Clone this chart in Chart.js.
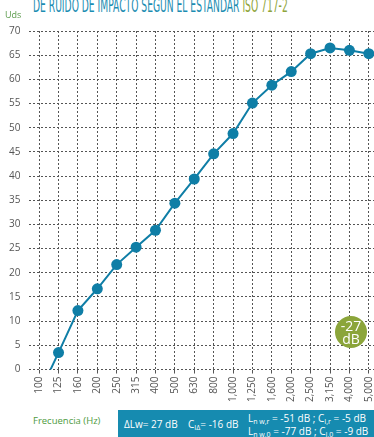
<!DOCTYPE html>
<html>
<head>
<meta charset="utf-8">
<script src="https://cdn.jsdelivr.net/npm/chart.js@4.4.0/dist/chart.umd.min.js"></script>
<style>
    body { margin: 0; width: 374px; height: 437px; overflow: hidden; background: #fff; position: relative; font-family: "Open Sans", sans-serif; }
    #wrap { position: absolute; left: 0; top: 0; width: 384px; height: 405px; }
    #title { position: absolute; left: 33px; top: -7px; white-space: nowrap; font-family: "DejaVu Sans Condensed", "DejaVu Sans", sans-serif; font-size: 20px; color: #1b8db2; transform-origin: 0 0; transform: scaleX(0.51); }
    #title span { color: #8fa53b; }
    #freq { position: absolute; left: 33px; top: 414px; font-size: 9.5px; color: #4e9a3e; }
    #box { position: absolute; left: 118px; top: 410px; width: 256px; height: 27px; background: #168bb0; color: #fff; font-size: 10px; }
    #box div { position: absolute; white-space: nowrap; line-height: 12px; }
    #box i { font-style: normal; font-size: 7px; position: relative; top: 2px; }
    #badge { position: absolute; left: 335px; top: 316px; width: 32px; height: 32px; border-radius: 50%; background: #8ba53a; color: #fff; text-align: center; font-size: 14px; line-height: 13px; }
</style>
</head>
<body>
<div id="title">DE RUIDO DE IMPACTO SEGÚN EL ESTÁNDAR <span>ISO 717-2</span></div>
<div id="wrap"><canvas id="chart"></canvas></div>
<div id="badge"><div style="padding-top:3px">-27</div><div>dB</div></div>
<div id="freq">Frecuencia (Hz)</div>
<div id="box">
    <div style="left:6px; top:8px">ΔLw= 27 dB</div>
    <div style="left:70px; top:8px">C<i>IΔ</i>= -16 dB</div>
    <div style="left:130px; top:2px">L<i>n w,r</i> = -51 dB ; C<i>I,r</i> = -5 dB</div>
    <div style="left:130px; top:15px">L<i>n w,0</i> = -77 dB ; C<i>I,0</i> = -9 dB</div>
</div>
<script>
const frequencies = ['100', '125', '160', '200', '250', '315', '400', '500', '630', '800',
    '1,000', '1,250', '1,600', '2,000', '2,500', '3,150', '4,000', '5,000'];
const levels = [-5, 3.5, 12.2, 16.7, 21.7, 25.3, 28.8, 34.4, 39.4, 44.6,
    48.8, 55.1, 58.8, 61.6, 65.3, 66.5, 66.0, 65.3];
const yTicks = [0, 70, 5];
const unitLabel = 'Uds';

// small unit label above the y axis
const unitPlugin = {
    id: 'unitLabel',
    afterDraw(chart) {
        const c = chart.ctx;
        c.save();
        c.font = '9px "Open Sans"';
        c.fillStyle = '#5a9a4a';
        c.textBaseline = 'middle';
        c.fillText(unitLabel, 5, 15);
        c.restore();
    }
};

window.onload = function() {
    const ctx = document.getElementById('chart').getContext('2d');
    const gridStyle = {
        color: '#555',
        lineWidth: 1,
        tickColor: '#555',
        borderDash: [2, 2]
    };
    chart = new Chart(ctx, {
        type: 'line',
        data: {
            labels: frequencies,
            datasets: [{
                data: levels,
                borderColor: '#0f7ea6',
                backgroundColor: '#0f7ea6',
                borderWidth: 2,
                pointRadius: c => c.dataIndex === 0 ? 0 : 5.5,
                pointBorderWidth: 0,
                tension: 0,
                clip: { left: 10, top: 10, right: 10, bottom: 0 }
            }]
        },
        options: {
            responsive: true,
            maintainAspectRatio: false,
            animation: false,
            layout: { padding: { top: 31, left: 0, right: 2, bottom: 0 } },
            plugins: { legend: { display: false }, tooltip: { enabled: false } },
            scales: {
                x: {
                    offset: true,
                    grid: { ...gridStyle, offset: false, tickLength: 4 },
                    border: { display: false, dash: [2, 2] },
                    ticks: { color: '#555', font: { size: 10, family: 'Open Sans' }, maxRotation: 90, minRotation: 90, padding: 3, autoSkip: false }
                },
                y: {
                    min: yTicks[0],
                    max: yTicks[1],
                    grid: { ...gridStyle, drawTicks: false },
                    border: { display: false, dash: [2, 2] },
                    ticks: { stepSize: yTicks[2], color: '#555', font: { size: 10, family: 'Open Sans' }, padding: 9 }
                }
            }
        },
        plugins: [unitPlugin]
    });
};
</script>
</body>
</html>
